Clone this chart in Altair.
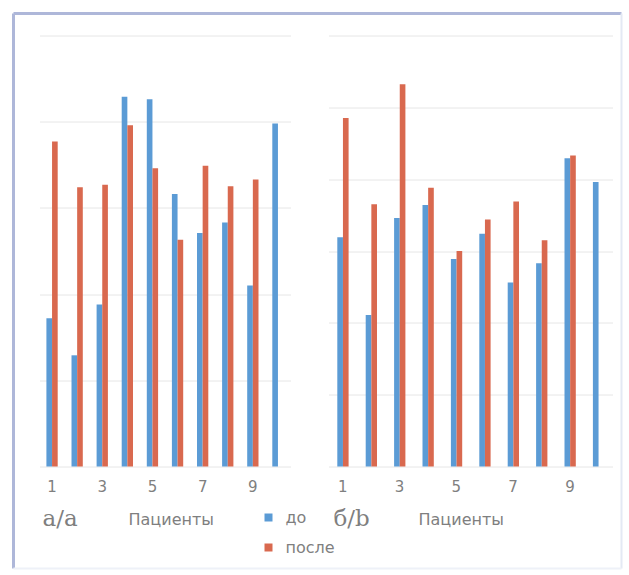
import altair as alt
import pandas as pd

# Patients and measured values (arbitrary units) before / after treatment
patients = list(range(1, 11))
series = ["до", "после"]
colors = ["#5b9bd5", "#d9694f"]

a_before = [1.72, 1.29, 1.88, 4.29, 4.26, 3.16, 2.71, 2.83, 2.10, 3.98]
a_after = [3.77, 3.24, 3.27, 3.96, 3.46, 2.63, 3.49, 3.25, 3.33, None]

b_before = [3.19, 2.11, 3.46, 3.64, 2.89, 3.24, 2.56, 2.83, 4.29, 3.96]
b_after = [4.85, 3.65, 5.32, 3.88, 3.00, 3.44, 3.69, 3.15, 4.33, None]

TEXT_GRAY = "#7f7f7f"
SANS = "DejaVu Sans"
SERIF = "DejaVu Serif"
HEIGHT = 431


def long_table(before, after):
    rows = []
    for p, v in zip(patients, before):
        if v is not None:
            rows.append({"patient": p, "series": series[0], "value": v})
    for p, v in zip(patients, after):
        if v is not None:
            rows.append({"patient": p, "series": series[1], "value": v})
    return pd.DataFrame(rows)


def label(text, x, y, font, size):
    return alt.Chart(pd.DataFrame({"t": [text]})).mark_text(
        align="left", baseline="middle", font=font, fontSize=size, color=TEXT_GRAY
    ).encode(x=alt.value(x), y=alt.value(y), text="t:N")


def panel(before, after, ymax, width, pad_inner, tag, tag_x, title_x, legend):
    df = long_table(before, after)
    if legend:
        color_legend = alt.Legend(
            orient="none", legendX=221, legendY=474, title=None,
            symbolType="square", symbolSize=64, symbolStrokeWidth=0,
            labelFont=SANS, labelFontSize=16, labelColor=TEXT_GRAY,
            labelOffset=9, rowPadding=14,
        )
    else:
        color_legend = None

    bars = alt.Chart(df).mark_bar().encode(
        x=alt.X(
            "patient:O",
            scale=alt.Scale(paddingInner=pad_inner, paddingOuter=pad_inner / 2),
            axis=alt.Axis(
                title=None, labelAngle=0, ticks=False, domain=False, grid=False,
                labelExpr="datum.value % 2 == 1 ? datum.label : ''",
                labelFont=SANS, labelFontSize=15, labelColor=TEXT_GRAY,
                labelPadding=13,
            ),
        ),
        xOffset=alt.XOffset("series:N", scale=alt.Scale(domain=series)),
        y=alt.Y(
            "value:Q",
            scale=alt.Scale(domain=[0, ymax], nice=False),
            axis=alt.Axis(
                title=None, labels=False, ticks=False, domain=False,
                values=list(range(ymax + 1)), gridColor="#e6e6e6", gridWidth=1,
            ),
        ),
        color=alt.Color(
            "series:N",
            scale=alt.Scale(domain=series, range=colors),
            legend=color_legend,
        ),
    )
    layers = [bars, label(tag, tag_x, 483, SERIF, 23), label("Пациенты", title_x, 484, SANS, 16)]
    return alt.layer(*layers).properties(width=width, height=HEIGHT)


left = panel(a_before, a_after, 5, 251, 0.55, "а/a", 3, 89, True)
right = panel(b_before, b_after, 6, 284, 0.62, "б/b", 5, 90, False)

# Outer frame drawn around both panels
frame_df = pd.DataFrame({"k": [0]})
frame = alt.layer(
    alt.Chart(frame_df).mark_rule(color="#aeb7d9", strokeWidth=3).encode(
        x=alt.value(-26), y=alt.value(-22), y2=alt.value(533)),
    alt.Chart(frame_df).mark_rule(color="#aeb7d9", strokeWidth=3).encode(
        x=alt.value(-26), x2=alt.value(582), y=alt.value(-22)),
    alt.Chart(frame_df).mark_rule(color="#e4e9f4", strokeWidth=2).encode(
        x=alt.value(582), y=alt.value(-22), y2=alt.value(533)),
    alt.Chart(frame_df).mark_rule(color="#eef1f8", strokeWidth=2).encode(
        x=alt.value(-26), x2=alt.value(582), y=alt.value(533)),
)
left = alt.layer(left, frame)

chart = alt.hconcat(left, right, spacing=38, bounds="flush").properties(
    padding={"left": 11.5, "top": 11.5, "right": 4, "bottom": 4},
    background="white",
).configure_view(stroke="transparent")

chart.save("out.html", embed_options={"renderer": "svg", "actions": False})
